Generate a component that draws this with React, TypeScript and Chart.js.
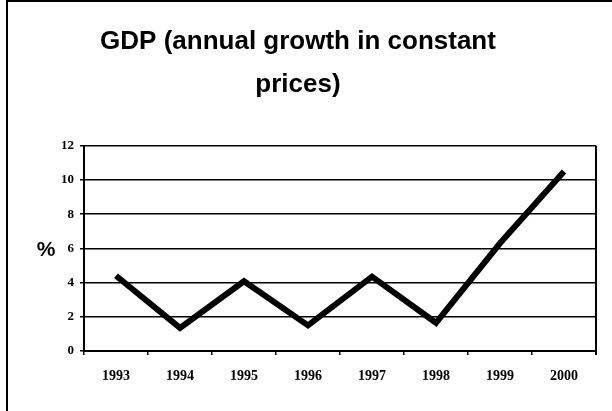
import React, { useEffect, useRef } from "react";
import { Chart, registerables } from "chart.js";

Chart.register(...registerables);

const years = ["1993", "1994", "1995", "1996", "1997", "1998", "1999", "2000"];
const gdpGrowth = [4.4, 1.35, 4.08, 1.5, 4.35, 1.65, 6.3, 10.5];
const yTicks = [0, 2, 4, 6, 8, 10, 12];
const titleLines = ["GDP (annual growth in constant", "prices)"];
const yAxisLabel = "%";

const framePlugin = {
  id: "frame",
  afterDraw(chart: any) {
    const { ctx, chartArea, scales } = chart;
    ctx.save();
    ctx.strokeStyle = "#000";
    ctx.lineWidth = 2;
    ctx.beginPath();
    ctx.moveTo(7, 411);
    ctx.lineTo(7, 1);
    ctx.lineTo(612, 1);
    ctx.stroke();
    ctx.beginPath();
    ctx.moveTo(chartArea.right, chartArea.top);
    ctx.lineTo(chartArea.right, chartArea.bottom + 4);
    ctx.stroke();
    ctx.fillStyle = "#000";
    ctx.font = "bold 21px 'Liberation Sans'";
    ctx.textAlign = "center";
    ctx.textBaseline = "middle";
    ctx.fillText(yAxisLabel, 46, scales.y.getPixelForValue(6) + 2);
    ctx.restore();
  },
};

export default function App() {
  const ref = useRef<HTMLCanvasElement>(null);
  useEffect(() => {
    document.body.style.margin = "0";
    const chart = new Chart(ref.current!, {
      type: "line",
      data: {
        labels: years,
        datasets: [
          {
            data: gdpGrowth,
            borderColor: "#000",
            borderWidth: 6,
            pointRadius: 0,
            tension: 0,
            fill: false,
          },
        ],
      },
      options: {
        animation: false,
        responsive: false,
        layout: { padding: { left: 0, right: 16, top: 0, bottom: 0 } },
        plugins: {
          legend: { display: false },
          tooltip: { enabled: false },
          title: {
            display: true,
            text: titleLines,
            color: "#000",
            font: { family: "Liberation Sans", size: 26, weight: "bold", lineHeight: 1.65 },
            padding: { top: 20, bottom: 40 },
          },
        },
        scales: {
          x: {
            offset: true,
            grid: {
              display: true,
              offset: true,
              drawOnChartArea: false,
              drawTicks: true,
              tickLength: 4,
              color: "#000",
              lineWidth: 1.5,
            },
            border: { display: true, color: "#000", width: 2 },
            ticks: {
              color: "#000",
              padding: 13,
              font: { family: "Liberation Serif", size: 14, weight: "bold" },
            },
            afterFit(scale: any) {
              scale.height = 60;
            },
          },
          y: {
            min: 0,
            max: 12,
            afterBuildTicks(scale: any) {
              scale.ticks = yTicks.map((v) => ({ value: v }));
            },
            grid: {
              color: "#000",
              lineWidth: 1.5,
              drawTicks: true,
              tickLength: 4,
            },
            border: { display: true, color: "#000", width: 2 },
            ticks: {
              color: "#000",
              padding: 6,
              font: { family: "Liberation Serif", size: 13, weight: "bold" },
            },
            afterFit(scale: any) {
              scale.width = 84;
            },
          },
        },
      },
      plugins: [framePlugin],
    } as any);
    return () => chart.destroy();
  }, []);
  return <canvas ref={ref} width={612} height={411} style={{ display: "block" }} />;
}
